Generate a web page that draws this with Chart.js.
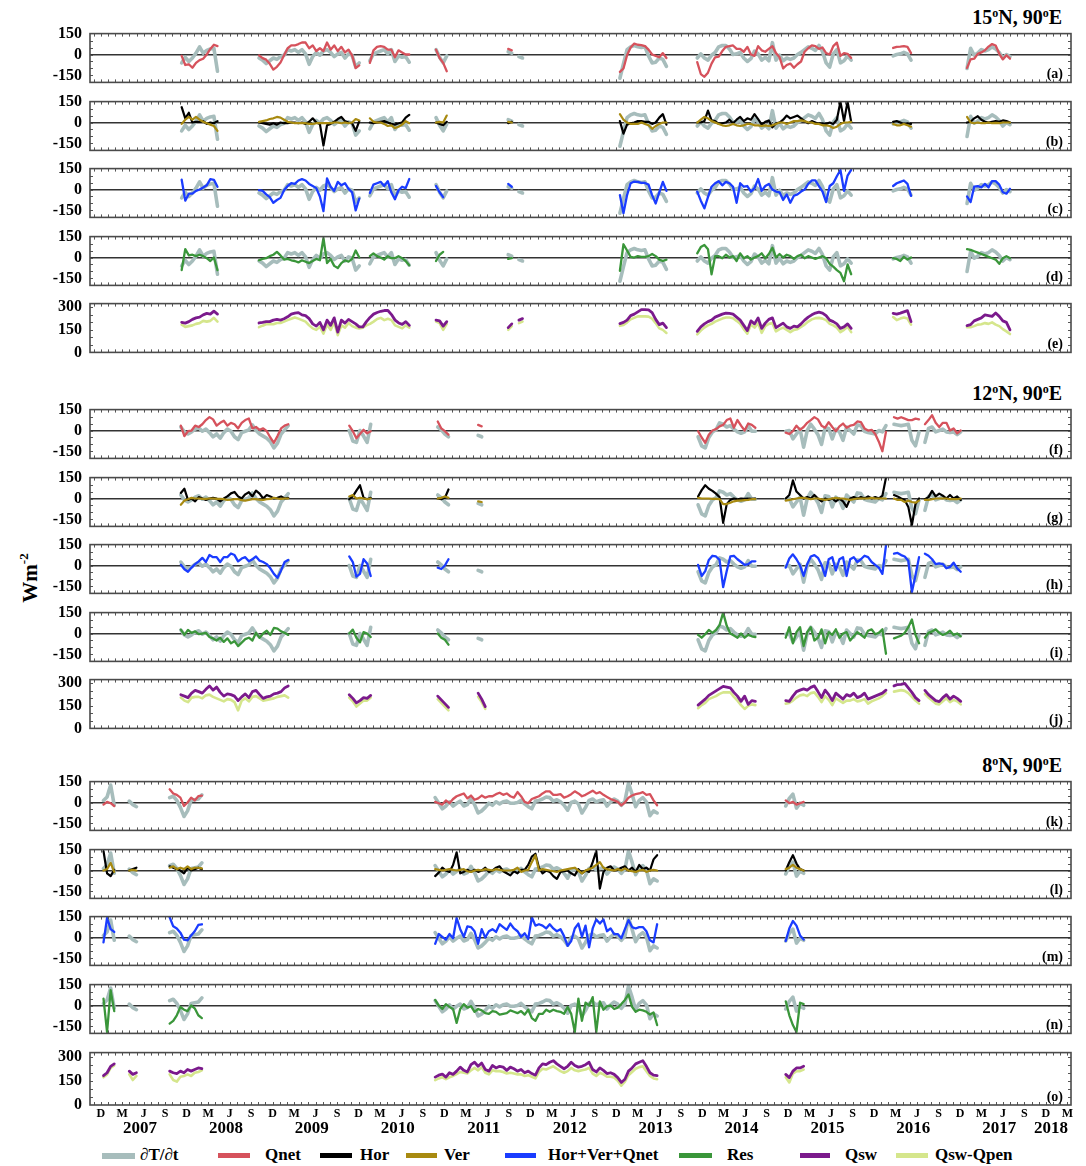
<!DOCTYPE html>
<html>
<head>
<meta charset="utf-8">
<script src="https://cdn.jsdelivr.net/npm/chart.js@4.4.1/dist/chart.umd.min.js"></script>
<style>
  body { margin: 0; background: #fff; font-family: "Liberation Serif", "Times New Roman", serif; font-weight: bold; }
  #fig { position: relative; width: 1086px; height: 1166px; overflow: hidden; }
  .site { position: absolute; right: 24px; font-size: 20px; line-height: 20px; white-space: nowrap; }
  .site sup { font-size: 12px; vertical-align: 7px; line-height: 0; }
  .ylab { position: absolute; left: 30px; top: 578px; transform: translate(-50%, -50%) rotate(-90deg); font-size: 21px; white-space: nowrap; }
  .ylab sup { font-size: 13px; vertical-align: 9px; line-height: 0; }
  .sw { position: absolute; height: 5px; top: 1153px; }
  .lt { position: absolute; top: 1145px; font-size: 17px; line-height: 20px; white-space: nowrap; }
</style>
</head>
<body>
<div id="fig">
  <div class="site" style="top:7px">15<sup>o</sup>N, 90<sup>o</sup>E</div>
  <div class="site" style="top:383px">12<sup>o</sup>N, 90<sup>o</sup>E</div>
  <div class="site" style="top:755px">8<sup>o</sup>N, 90<sup>o</sup>E</div>
  <div class="ylab">Wm<sup>-2</sup></div>

  <div class="sw" style="left:102px;width:33px;height:6px;background:#a7bdbc"></div><div class="lt" style="left:140px">∂T/∂t</div>
  <div class="sw" style="left:218px;width:32px;background:#d6525c"></div><div class="lt" style="left:265px">Qnet</div>
  <div class="sw" style="left:320px;width:32px;background:#000"></div><div class="lt" style="left:360px">Hor</div>
  <div class="sw" style="left:406px;width:31px;background:#a88a10"></div><div class="lt" style="left:444px">Ver</div>
  <div class="sw" style="left:505px;width:31px;background:#1a3cff"></div><div class="lt" style="left:548px">Hor+Ver+Qnet</div>
  <div class="sw" style="left:679px;width:33px;background:#3a963a"></div><div class="lt" style="left:727px">Res</div>
  <div class="sw" style="left:800px;width:30px;background:#7b1a8c"></div><div class="lt" style="left:845px">Qsw</div>
  <div class="sw" style="left:896px;width:32px;background:#d5e68c"></div><div class="lt" style="left:935px">Qsw-Qpen</div>
</div>
<script>
// time axis in decimal years, series sampled every half month
const xMin = 2006.833, xMax = 2018.25, step = 1 / 24;

// ---------- 15N, 90E ----------
const seg15 = [2007.90, 2008.80, 2010.09, 2010.86, 2011.70, 2013.00, 2013.90, 2016.18, 2017.04];
const dTdt15 = [
  [-60,-20,-50,-25,10,55,10,30,40,45,-120],
  [-25,-40,-65,-45,-25,-35,-15,-5,35,25,35,15,35,5,-70,-15,15,-5,25,35,15,-15,5,15,-25,5,-5,-90,-60],
  [-45,5,15,25,35,5,35,-50,-10,-20,-15,-55],
  [35,-20,-60,-10],
  [20,10,null,-15,-25],
  [-170,-65,35,55,65,55,50,55,-10,-60,-55,-25,-35,-85],
  [-25,5,-25,-40,-5,15,55,65,65,40,0,5,15,-25,-50,-30,25,5,-40,-20,-45,85,-40,-5,-45,-25,-35,-25,0,15,35,55,45,30,65,20,-60,-90,5,35,-60,-45,-10,-40],
  [-10,0,5,15,5,-40],
  [-100,45,-5,10,35,25,35,55,40,15,-25,0,-15]
];
const qnet15 = [
  [-10,-75,-70,-95,-60,-40,-30,0,40,70,60],
  [-6,-26,-37,-67,-108,-88,-57,-6,45,65,65,75,86,86,45,65,25,45,25,86,35,65,25,55,15,35,-6,-98,-78],
  [-60,30,55,60,55,35,35,-20,30,15,0,0],
  [35,-25,-60,-120],
  [40,30],
  [-125,-100,-5,50,78,70,68,60,35,0,-10,-20,10,-25],
  [-55,-140,-160,-130,-65,-20,-15,25,55,60,65,40,40,20,55,0,-10,60,30,20,40,60,10,-20,-100,-75,-65,-95,-70,-50,20,45,65,60,40,50,10,0,60,85,-10,10,5,-25],
  [47,55,57,60,55,10],
  [-96,-35,-30,5,15,30,57,75,65,5,-35,-5,-30]
];
const hor15 = [
  [110,30,70,0,5,5,10,-10,0,-5,10],
  [0,-5,-10,-15,-5,-15,0,-5,-5,0,0,-5,0,-10,5,30,0,-10,-165,-20,-10,5,25,40,10,0,-5,-60,10],
  [0,-5,0,5,10,0,-10,-15,-5,0,35,55],
  [0,-10,-20,5],
  [-5,5],
  [10,-80,-15,-5,0,10,10,5,5,-10,0,35,60,-15],
  [0,0,10,85,15,10,-10,-5,0,20,-5,20,40,10,30,20,60,25,-15,5,15,-35,-5,0,20,50,30,40,50,30,10,-5,10,0,-10,-5,-10,0,-10,20,150,10,150,5],
  [5,10,0,-10,-5,-10],
  [0,5,30,45,20,5,0,5,10,5,15,10,0]
];
const ver15 = [
  [-10,20,40,20,40,20,5,-5,-15,-25,-60],
  [5,10,15,25,30,40,35,20,5,0,-5,-5,-5,-5,-10,-10,-5,-5,-5,-5,-5,0,0,-5,0,-5,0,25,15],
  [30,5,0,0,-10,-25,-20,-40,-30,-15,10,-5],
  [0,5,0,50],
  [5,0],
  [60,20,0,-10,-10,-10,0,-10,-20,-45,-25,-10,0,0],
  [0,20,40,30,10,0,-10,-20,-25,-20,-10,-20,-25,-20,-10,-10,-20,-20,-25,-20,-25,-20,-10,0,0,-10,0,10,10,15,10,0,0,-10,-10,-20,-20,-25,-40,-30,-10,0,0,5],
  [-10,-20,-20,-10,-20,-30],
  [40,0,-5,0,-5,-5,0,-5,-3,-5,0,0,0]
];
const hvq15 = [
  [70,-80,-30,-30,-10,0,15,30,75,70,20],
  [-5,-10,-35,-55,-95,-75,-60,-5,25,45,40,65,75,65,40,25,10,-50,-155,80,20,-10,55,30,45,5,-20,-150,-65],
  [-25,35,45,55,25,60,-20,-70,-5,20,10,75],
  [25,-20,-55],
  [40,20],
  [-40,-170,-40,45,57,55,47,47,35,-40,-100,-20,55,-10],
  [-15,-80,-135,-55,20,45,60,30,55,45,20,-95,45,20,25,-15,10,75,-10,25,40,0,-15,-20,-75,-35,-95,-45,-35,-15,0,40,65,65,25,-15,-90,25,45,95,140,-10,100,140],
  [25,45,55,65,40,-45],
  [-50,-90,20,25,15,40,15,60,60,35,-20,-30,5]
];
const res15 = [
  [-90,60,15,20,10,20,10,-5,-25,0,-90],
  [-20,-10,-5,10,20,40,15,-15,-10,-20,-25,-35,-20,-30,-40,-25,-10,-20,140,-40,-10,-60,-75,-40,-20,-30,-10,50,0],
  [10,30,10,0,-15,10,-5,-5,10,-5,-25,-55],
  [-25,20,40],
  [-10,-5],
  [-95,95,50,5,0,10,5,5,10,25,10,-15,-25,-15],
  [30,75,90,60,-120,10,10,-5,20,0,10,-25,30,-5,10,-15,0,10,30,-5,25,70,0,25,0,20,10,-10,10,20,-5,10,0,-10,0,10,-5,-45,-65,-90,-110,-170,-50,-120],
  [-5,-10,-25,5,-15,0],
  [60,55,45,35,25,15,5,-5,-15,-45,-5,10,-5]
];
const qsw15 = [
  [200,195,205,220,230,235,250,260,255,275,255],
  [196,200,205,205,215,220,215,224,237,255,261,265,250,245,225,190,175,200,150,215,180,230,135,215,195,220,205,190,170,170,205,233,255,266,274,279,279,252,215,196,187,205,180],
  [],
  [215,210,175,205],
  [165,190,null,215,225],
  [192,200,215,245,255,270,285,285,283,265,220,185,195,165],
  [140,170,190,205,215,235,245,255,262,260,255,235,215,180,145,210,190,230,160,195,220,230,165,180,195,170,160,175,170,190,215,235,250,262,268,262,245,215,205,190,160,170,190,160],
  [260,255,262,270,278,205],
  [178,185,210,220,230,250,245,240,262,240,210,200,150]
];
const qpen15 = [
  [185,170,175,180,190,195,210,205,210,230,205],
  [168,178,187,187,187,196,196,205,215,224,233,225,215,205,180,160,150,170,125,185,150,200,115,180,165,195,175,165,160,165,180,190,205,222,230,215,224,215,180,170,160,180,165],
  [],
  [205,195,150,190],
  [150,175,null,195,205],
  [177,182,200,220,230,240,240,240,238,225,195,160,150,130],
  [120,145,165,180,190,205,215,225,232,232,228,210,190,155,125,185,165,195,130,175,190,195,140,155,165,150,135,150,155,170,185,205,220,228,230,225,215,190,180,165,135,150,170,135],
  [235,215,225,232,225,185],
  [168,168,175,185,188,195,190,200,185,175,155,140,122]
];

// ---------- 12N, 90E ----------
const seg12 = [2007.89, 2009.85, 2010.88, 2011.35, 2013.91, 2014.93, 2016.19, 2016.55];
const dTdt12 = [
  [25,-10,-25,-10,10,20,-5,10,-15,-45,-25,-55,-15,10,-5,-45,-65,-15,-5,5,40,0,-25,-40,-55,-80,-125,-90,-25,5,35],
  [0,-75,-85,0,-40,-85,45],
  [25,5,-25,-45],
  [-35,-45],
  [-45,-110,-125,-50,-10,5,55,45,25,35,10,-10,-20,-10,35,-5,-5],
  [-5,0,-60,-25,10,-120,0,45,10,-30,-100,20,15,-60,10,-10,-70,25,0,-25,40,35,-5,-15,-20,-25,0,-10,35],
  [45,40,35,40,45,-70,-110,-10],
  [-85,15,25,-10,0,10,-10,-15,-10,-30,-10]
];
const qnet12 = [
  [35,-40,-5,0,35,25,45,75,96,80,35,55,70,35,55,45,15,55,75,86,15,25,5,15,-5,-50,-88,-40,15,35,45],
  [35,-5,-55,-25,5,-20,-5],
  [65,15,-5,-30],
  [40,30],
  [-5,-50,-88,-30,0,10,30,40,75,86,20,75,35,0,50,40,20],
  [-15,-25,-5,35,5,25,55,75,96,80,35,20,60,25,-5,30,50,20,35,40,65,60,15,0,5,-25,-80,-149,-10],
  [95,85,95,85,75,75,85,80],
  [45,75,110,55,25,55,55,0,15,-20,0]
];
const hor12 = [
  [40,70,-10,0,-20,10,0,-10,0,5,0,-20,0,15,37,47,15,0,30,45,15,57,35,0,25,15,0,5,15,0,5],
  [-5,15,57,95,5,-5,5],
  [0,-5,5,65],
  [],
  [15,60,95,70,55,35,10,-175,-40,-10,0,-5,0,-3,0,-3,0],
  [0,25,130,50,25,0,10,0,25,0,-20,0,-10,0,-20,0,-20,-60,0,10,0,10,0,15,0,10,0,20,150],
  [25,15,0,-10,-60,-190,-40,0],
  [-5,10,55,15,35,20,0,25,0,15,-10]
];
const ver12 = [
  [-45,-15,-5,5,0,0,-3,-3,0,0,-3,-3,-5,-10,-8,-5,-5,-12,-15,-10,-5,-5,-8,-10,-5,-3,5,0,-3,0,0],
  [15,25,0,5,0,-5,0],
  [0,5,15,5],
  [-20,-25],
  [5,0,0,0,-3,-3,-5,-40,-40,-30,-20,-15,-15,-12,-10,-5,-5],
  [-15,-10,-5,0,5,5,0,-5,0,0,-5,-10,-5,0,5,0,0,-5,-10,-5,0,0,0,0,5,0,0,0,0],
  [0,-10,-10,-25,-15,-25,-30,-15],
  [-10,-10,-5,0,0,0,0,-5,-5,-5,0]
];
const hvq12 = [
  [5,-27,-45,-15,10,30,55,25,75,60,60,25,60,60,86,75,30,50,60,30,45,65,35,25,10,-20,-60,-88,-35,25,40],
  [65,25,-80,-60,45,15,-75],
  [-15,-25,0,45],
  [],
  [5,-75,-40,40,70,65,40,-155,-40,65,70,45,25,5,10,30,30],
  [-15,50,80,45,0,-75,10,65,75,55,5,-75,45,60,-35,45,60,-75,45,60,25,45,70,60,25,5,-15,-60,145],
  [85,90,75,65,35,-190,-70,60],
  [85,70,45,10,15,10,-20,-10,20,-20,-45]
];
const res12 = [
  [28,-10,25,5,15,-5,0,5,-25,-35,-50,-30,-60,-35,-70,-55,-90,-65,-40,-30,-50,5,-30,0,20,-10,40,35,15,5,-10],
  [0,28,-30,-63,10,0,-25],
  [0,-30,-45,-80],
  [],
  [-10,-30,-5,25,5,25,60,150,55,0,-15,-30,0,-30,-10,-20,-25],
  [-30,45,-70,10,45,-90,10,45,-50,-30,30,-70,10,-10,30,-30,0,10,-50,-20,10,-10,-30,20,30,-5,5,30,-145],
  [-35,-25,-15,5,45,100,-10,-70],
  [-30,5,15,30,5,-10,0,20,-10,0,-20]
];
const qsw12 = [
  [224,215,205,235,253,245,235,260,283,255,275,240,215,230,225,215,185,210,230,205,245,253,225,200,210,215,230,235,245,270,283],
  [224,200,170,185,205,200,220],
  [215,190,165,140],
  [235,195,145],
  [155,175,195,220,235,250,265,280,275,270,240,215,180,215,160,185,180],
  [185,180,215,245,255,263,255,273,283,245,205,255,225,185,235,215,195,225,215,235,205,215,235,195,205,215,225,235,255],
  [283,292,293,300,270,240,205,185],
  [253,225,205,185,178,205,225,195,215,200,180]
];
const qpen12 = [
  [205,185,175,205,210,210,200,220,225,210,200,190,180,195,190,175,120,185,200,180,210,215,200,185,190,195,200,210,215,220,205],
  [205,180,145,165,185,185,205],
  [195,170,145,120],
  [210,175,130],
  [135,155,170,195,205,215,230,240,240,240,210,185,155,130,150,160,155],
  [165,170,185,205,220,225,215,235,240,210,175,215,190,155,200,185,170,185,185,195,180,185,195,165,180,190,200,215,235],
  [245,250,255,250,235,210,185,165],
  [230,205,185,165,160,180,200,175,190,180,160]
];

// ---------- 8N, 90E ----------
const seg8 = [2006.99, 2007.29, 2007.76, 2010.85, 2014.93];
const dTdt8 = [
  [15,40,125,-20],
  [10,-15,-30],
  [35,45,15,-35,-100,-60,15,20,25,55],
  [35,-5,-45,-25,5,-25,-5,10,-25,-15,30,-15,-75,-60,-35,-5,-20,5,-10,5,10,-5,-5,0,15,-10,-30,-45,10,15,25,40,35,10,20,5,-20,-55,0,10,-10,-75,-35,15,25,5,15,20,-25,5,25,10,-20,10,140,60,-30,15,35,5,-95,-60,-75],
  [-25,30,60,-40,-5,-20]
];
const qnet8 = [
  [-15,5,-5,-25],
  [],
  [95,65,55,35,-25,0,35,15,45,50],
  [5,-5,-15,15,-5,25,45,55,65,30,50,20,30,50,35,45,45,60,70,55,65,45,35,75,45,5,-5,25,35,45,65,80,80,55,55,60,35,45,60,80,65,45,55,70,85,65,75,55,40,25,15,5,-20,0,35,50,60,65,75,55,60,15,-20],
  [15,-5,5,-15,-5,5]
];
const hor8 = [
  [140,-20,-40,5],
  [0,10,20],
  [30,20,10,0,-20,20,0,10,20,10],
  [-40,-15,20,0,-10,40,130,-20,-10,5,-10,5,-10,0,20,-10,0,20,30,-5,-20,-35,-5,-20,5,5,40,100,120,20,-20,0,-10,-40,-60,-10,-5,0,-20,-35,10,-20,0,-10,60,140,-130,-10,20,30,0,5,20,30,0,20,-10,40,10,20,0,80,110],
  [0,60,110,50,10,0]
];
const ver8 = [
  [0,10,55,-10],
  [0,5,0],
  [20,30,10,20,10,30,10,20,20,15],
  [10,5,0,5,10,5,0,5,10,-5,-10,0,5,0,10,5,0,10,5,0,0,0,5,20,-10,0,5,60,110,0,10,5,0,-5,-10,0,5,10,15,20,0,-20,0,10,20,40,60,20,10,5,0,10,0,15,0,-5,-10,0,5,-10,0,5,0],
  [10,20,40,20,10,0]
];
const hvq8 = [
  [-35,140,60,40],
  [],
  [145,80,65,35,-15,-20,15,45,90,95],
  [-45,25,5,-15,25,-5,140,60,5,80,75,45,-45,60,0,45,60,40,95,75,55,100,65,45,5,30,-10,145,85,95,85,65,95,65,45,60,10,-60,-25,65,100,5,85,-70,65,130,100,130,45,65,25,25,-5,60,125,75,65,75,75,45,-20,-35,95],
  [-25,65,118,85,15,-15]
];
const res8 = [
  [50,-190,110,-40],
  [],
  [-130,-110,-70,-10,-30,-40,0,-20,-70,-90],
  [40,0,-25,10,-10,-25,-125,-25,10,-15,-5,-45,-25,-35,-55,-60,-40,-45,-65,-60,-55,-35,-45,-55,-40,-65,-30,-90,-110,-60,-60,-30,-45,-30,-40,-45,-60,-10,-60,-190,50,-110,20,0,60,-190,30,-30,-5,0,-25,-15,10,40,80,-10,-45,-30,-35,-45,-65,-50,-140],
  [30,-70,-140,-190,20,10]
];
const qsw8 = [
  [182,200,240,255],
  [210,190,200],
  [210,200,195,210,200,220,210,220,230,225],
  [173,185,192,173,200,190,210,235,215,205,250,265,240,260,220,210,245,230,240,235,215,235,225,210,220,200,210,195,185,230,255,250,265,275,255,240,225,240,265,245,235,240,250,265,220,205,230,215,195,200,190,170,140,160,210,230,255,265,275,240,200,185,182],
  [190,170,210,230,230,240]
];
const qpen8 = [
  [172,190,230,245],
  [190,155,180],
  [190,155,145,175,180,190,180,200,205,215],
  [154,165,172,160,172,180,192,205,200,195,215,230,215,235,200,190,215,210,210,205,195,200,195,190,190,180,185,175,165,205,225,220,230,240,225,210,200,210,230,215,210,215,220,230,195,180,200,190,175,175,170,150,120,145,185,205,225,235,240,210,180,165,160],
  [172,140,195,210,210,220]
];

const yearLabels = [2007, 2008, 2009, 2010, 2011, 2012, 2013, 2014, 2015, 2016, 2017, 2018];
const monthLetters = ['D', 'M', 'J', 'S'];
const fluxTicks = [-150, 0, 150];
const swTicks = [0, 150, 300];

const sites = {
  15: { t: seg15, dTdt: dTdt15, Qnet: qnet15, Hor: hor15, Ver: ver15, HVQ: hvq15, Res: res15, Qsw: qsw15, Qpen: qpen15 },
  12: { t: seg12, dTdt: dTdt12, Qnet: qnet12, Hor: hor12, Ver: ver12, HVQ: hvq12, Res: res12, Qsw: qsw12, Qpen: qpen12 },
  8:  { t: seg8,  dTdt: dTdt8,  Qnet: qnet8,  Hor: hor8,  Ver: ver8,  HVQ: hvq8,  Res: res8,  Qsw: qsw8,  Qpen: qpen8 }
};

const look = {
  dTdt: { color: '#a7bdbc', width: 3.6 },
  Qnet: { color: '#d6525c', width: 2.3 },
  Hor:  { color: '#000000', width: 2.2 },
  Ver:  { color: '#a88a10', width: 2.2 },
  HVQ:  { color: '#1a3cff', width: 2.3 },
  Res:  { color: '#3a963a', width: 2.3 },
  Qsw:  { color: '#7b1a8c', width: 2.8 },
  Qpen: { color: '#d5e68c', width: 2.6 }
};

// one entry per panel: which site, which series (back to front), vertical placement
const panels = [
  { site: 15, keys: ['dTdt', 'Qnet'], tag: '(a)', top: 30 },
  { site: 15, keys: ['dTdt', 'Hor', 'Ver'], tag: '(b)', top: 98 },
  { site: 15, keys: ['dTdt', 'HVQ'], tag: '(c)', top: 165 },
  { site: 15, keys: ['dTdt', 'Res'], tag: '(d)', top: 233 },
  { site: 15, keys: ['Qpen', 'Qsw'], tag: '(e)', top: 300 },
  { site: 12, keys: ['dTdt', 'Qnet'], tag: '(f)', top: 406 },
  { site: 12, keys: ['dTdt', 'Hor', 'Ver'], tag: '(g)', top: 474 },
  { site: 12, keys: ['dTdt', 'HVQ'], tag: '(h)', top: 541 },
  { site: 12, keys: ['dTdt', 'Res'], tag: '(i)', top: 609 },
  { site: 12, keys: ['Qpen', 'Qsw'], tag: '(j)', top: 676 },
  { site: 8, keys: ['dTdt', 'Qnet'], tag: '(k)', top: 778 },
  { site: 8, keys: ['dTdt', 'Hor', 'Ver'], tag: '(l)', top: 846 },
  { site: 8, keys: ['dTdt', 'HVQ'], tag: '(m)', top: 913 },
  { site: 8, keys: ['dTdt', 'Res'], tag: '(n)', top: 981 },
  { site: 8, keys: ['Qpen', 'Qsw'], tag: '(o)', top: 1049 }
];

const PANEL_H = 56, PAD = 14, AXIS_H = 44;
const serif = '"Liberation Serif", "Times New Roman", serif';

Chart.defaults.font.family = serif;
Chart.defaults.font.weight = 'bold';
Chart.defaults.color = '#000';

// turn segment start dates + half-monthly values into {x,y} points with breaks between segments
function toPoints(starts, segs) {
  const pts = [];
  segs.forEach((vals, i) => {
    if (!vals.length) return;
    vals.forEach((v, j) => pts.push({ x: starts[i] + j * step, y: v }));
    pts.push({ x: starts[i] + vals.length * step, y: null });
  });
  return pts;
}

// box, inward minor ticks, panel letter and (bottom panel) year row
const framePlugin = {
  id: 'frame',
  afterDatasetsDraw(chart, args, opts) {
    const { ctx, chartArea: a, scales: { x, y } } = chart;
    ctx.save();
    ctx.strokeStyle = '#555';
    ctx.lineWidth = 1;
    ctx.beginPath();
    for (let t = 2006.875; t < xMax; t += 1 / 12) {
      const px = Math.round(x.getPixelForValue(t)) + 0.5;
      ctx.moveTo(px, a.top); ctx.lineTo(px, a.top + 3);
      ctx.moveTo(px, a.bottom); ctx.lineTo(px, a.bottom - 3);
    }
    for (let v = y.min + opts.minor; v < y.max; v += opts.minor) {
      const py = Math.round(y.getPixelForValue(v)) + 0.5;
      ctx.moveTo(a.left, py); ctx.lineTo(a.left + 3, py);
      ctx.moveTo(a.right, py); ctx.lineTo(a.right - 3, py);
    }
    ctx.stroke();
    ctx.strokeStyle = '#4a4a4a';
    ctx.lineWidth = 1.6;
    ctx.strokeRect(a.left, a.top, a.right - a.left, a.bottom - a.top);

    ctx.fillStyle = '#000';
    ctx.font = 'bold 14px ' + serif;
    ctx.textAlign = 'right';
    ctx.textBaseline = 'alphabetic';
    ctx.fillText(opts.tag, a.right - 8, a.bottom - 4);

    if (opts.years) {
      ctx.font = 'bold 17px ' + serif;
      ctx.textBaseline = 'middle';
      yearLabels.forEach(yr => {
        const px = x.getPixelForValue(yr + 0.415);
        const w = ctx.measureText(String(yr)).width;
        if (px + w / 2 > a.right - 3) {
          ctx.textAlign = 'right';
          ctx.fillText(String(yr), a.right - 3, a.bottom + 24);
        } else {
          ctx.textAlign = 'center';
          ctx.fillText(String(yr), px, a.bottom + 24);
        }
      });
    }
    ctx.restore();
  }
};

const fig = document.getElementById('fig');

panels.forEach((p, i) => {
  const last = i === panels.length - 1;
  const flux = p.keys[0] === 'dTdt';
  const src = sites[p.site];
  const cv = document.createElement('canvas');
  cv.width = 1086;
  cv.height = PAD + PANEL_H + (last ? AXIS_H : PAD);
  cv.style.cssText = 'position:absolute;left:0;top:' + (p.top - PAD) + 'px';
  fig.appendChild(cv);

  const datasets = p.keys.map((k, n) => ({
    label: k,
    data: toPoints(src.t, src[k]),
    borderColor: look[k].color,
    borderWidth: look[k].width,
    pointRadius: 0,
    tension: 0,
    spanGaps: false,
    order: p.keys.length - n
  }));

  const xScale = {
    type: 'linear',
    min: xMin,
    max: xMax,
    display: last,
    grid: { display: false, drawTicks: false },
    border: { display: false }
  };
  if (last) {
    Object.assign(xScale, {
      afterFit: s => { s.height = AXIS_H; },
      afterBuildTicks: s => {
        const ticks = [];
        for (let v = 2006.958; v <= xMax; v += 0.25) ticks.push({ value: v });
        s.ticks = ticks;
      },
      ticks: {
        autoSkip: false,
        maxRotation: 0,
        padding: 2,
        font: { size: 12, weight: 'bold' },
        callback: (v, idx) => monthLetters[idx % 4]
      }
    });
  }

  new Chart(cv, {
    type: 'line',
    data: { datasets },
    options: {
      responsive: false,
      animation: false,
      events: [],
      layout: { padding: { top: PAD, bottom: last ? 0 : PAD, left: 0, right: 15 } },
      elements: { line: { borderJoinStyle: 'round', borderCapStyle: 'round' } },
      plugins: {
        legend: { display: false },
        tooltip: { enabled: false },
        frame: { tag: p.tag, minor: 50, years: last }
      },
      scales: {
        x: xScale,
        y: {
          min: flux ? -200 : 0,
          max: flux ? 150 : 325,
          afterFit: s => { s.width = 90; },
          afterBuildTicks: s => { s.ticks = (flux ? fluxTicks : swTicks).map(v => ({ value: v })); },
          ticks: { padding: 8, font: { size: 16, weight: 'bold' } },
          grid: {
            drawTicks: false,
            lineWidth: 1.5,
            color: c => (flux && c.tick && c.tick.value === 0) ? '#333' : 'rgba(0,0,0,0)'
          },
          border: { display: false }
        }
      }
    },
    plugins: [framePlugin]
  });
});
</script>
</body>
</html>
